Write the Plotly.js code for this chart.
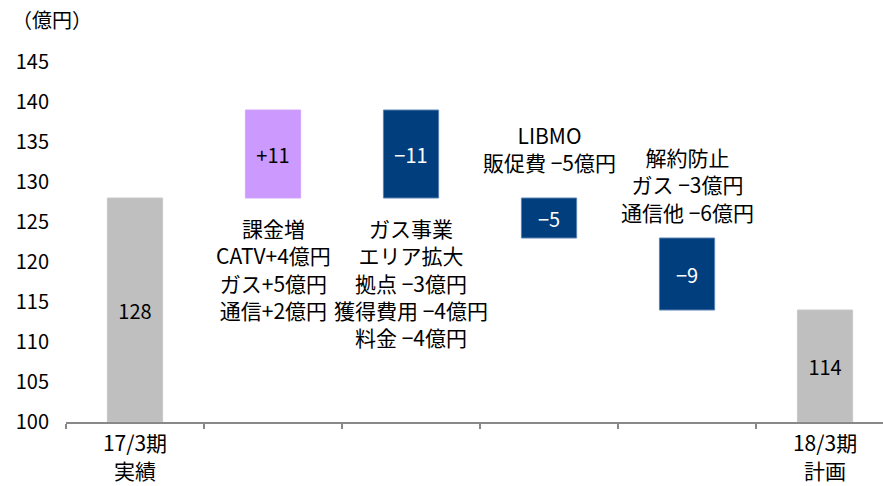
<!DOCTYPE html>
<html>
<head>
<meta charset="utf-8">
<script src="https://cdn.plot.ly/plotly-3.0.1.min.js"></script>
<style>html,body{margin:0;padding:0;background:#fff;overflow:hidden}</style>
</head>
<body>
<div id="chart" style="width:883px;height:486px"></div>
<script>
// ---- data ----
const categories = ["17/3期", "課金増", "ガス事業", "LIBMO", "解約防止", "18/3期"];
const tickLabels = ["17/3期<br>実績", " ", "  ", "   ", "    ", "18/3期<br>計画"];
const measures = ["total", "relative", "relative", "relative", "relative", "total"];
const values = [128, 11, -11, -5, -9, 114];
const barLabels = ["128", "+11", "−11", "−5", "−9", "114"];
const notes = [
  "",
  "課金増<br>CATV+4億円<br>ガス+5億円<br>通信+2億円",
  "ガス事業<br>エリア拡大<br>拠点 −3億円<br>獲得費用 −4億円<br>料金 −4億円",
  "LIBMO<br>販促費 −5億円",
  "解約防止<br>ガス −3億円<br>通信他 −6億円",
  ""
];
const noteTops = [null, 126.4, 126.4, 138.0, 135.3, null];
const yTicks = [100, 105, 110, 115, 120, 125, 130, 135, 140, 145];
const axisBase = 100;

// ---- build bars ----
const bases = [], heights = [], colors = [], textColors = [], lineColors = [];
let level = 0;
for (let i = 0; i < values.length; i++) {
  if (measures[i] === "total") {
    bases.push(axisBase);
    heights.push(values[i] - axisBase);
    level = values[i];
    colors.push("#BFBFBF"); textColors.push("#000000"); lineColors.push("#C8C8C8");
  } else {
    const start = level, end = level + values[i];
    bases.push(Math.min(start, end));
    heights.push(Math.abs(values[i]));
    level = end;
    if (values[i] >= 0) { colors.push("#CC99FF"); textColors.push("#000000"); lineColors.push("#D2A5FF"); }
    else { colors.push("#003E7E"); textColors.push("#FFFFFF"); lineColors.push("#5A82B4"); }
  }
}

const FONT = '"Noto Sans CJK JP", "Noto Sans", sans-serif';

const trace = {
  type: "bar",
  x: categories,
  y: heights,
  base: bases,
  width: 0.4,
  marker: {color: colors, line: {color: lineColors, width: 1}},
  text: barLabels,
  textposition: "inside",
  insidetextanchor: "middle",
  textangle: 0,
  textfont: {family: FONT, size: 20, color: textColors},
  hoverinfo: "skip",
  cliponaxis: false
};

const annotations = [];
for (let i = 0; i < notes.length; i++) {
  if (!notes[i]) continue;
  annotations.push({
    x: categories[i], y: noteTops[i], xref: "x", yref: "y",
    yanchor: "top", xanchor: "center", showarrow: false,
    text: notes[i], align: "center",
    font: {family: FONT, size: 21, color: "#000"}
  });
}
annotations.push({
  x: -56 / (883 - 66), y: 1 + (62 - 20) / (486 - 62 - 64),
  xref: "paper", yref: "paper", showarrow: false,
  text: "（億円）", xanchor: "left", yanchor: "middle",
  font: {family: FONT, size: 20, color: "#000"}
});

const layout = {
  width: 883, height: 486,
  margin: {l: 66, r: 0, t: 62, b: 64},
  paper_bgcolor: "#fff", plot_bgcolor: "#fff",
  showlegend: false,
  font: {family: FONT, size: 20, color: "#000"},
  xaxis: {
    type: "category",
    range: [-0.5, 5.42],
    tickmode: "array",
    tickvals: categories,
    ticktext: tickLabels,
    tickson: "boundaries",
    ticks: "outside", ticklen: 5, tickwidth: 2, tickcolor: "#888",
    showline: true, linecolor: "#888", linewidth: 2,
    showgrid: false, zeroline: false,
    ticklabelstandoff: 2,
    tickfont: {family: FONT, size: 21, color: "#000"},
    fixedrange: true
  },
  yaxis: {
    range: [100, 145],
    tickmode: "array", tickvals: yTicks, ticktext: yTicks.map(String),
    showline: false, showgrid: false, zeroline: false, ticks: "",
    ticklabelstandoff: 16,
    tickfont: {family: FONT, size: 20, color: "#000"},
    fixedrange: true
  },
  annotations: annotations
};

Plotly.newPlot("chart", [trace], layout, {displayModeBar: false, staticPlot: true});
</script>
</body>
</html>
